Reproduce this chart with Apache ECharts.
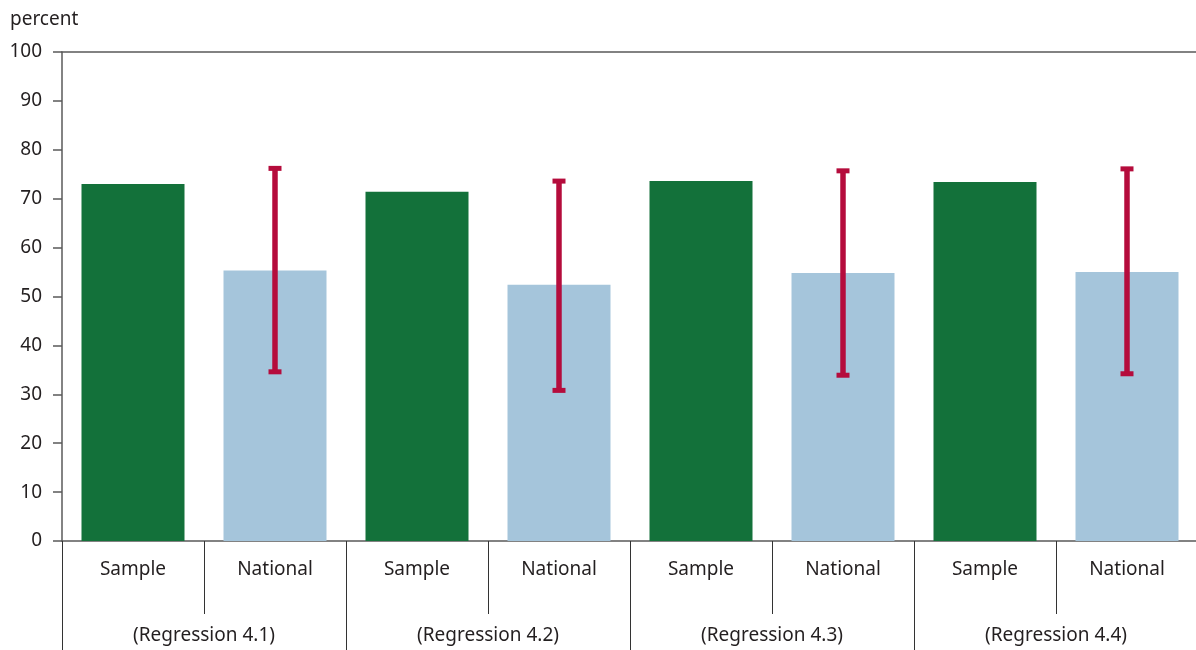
<!DOCTYPE html>
<html>
<head>
<meta charset="utf-8">
<script src="https://cdn.jsdelivr.net/npm/echarts@6/dist/echarts.min.js"></script>
<style>
html,body{margin:0;padding:0;background:#fff;overflow:hidden;}
#chart{width:1204px;height:650px;}
</style>
</head>
<body>
<div id="chart"></div>
<script>
const groups = ['(Regression 4.1)', '(Regression 4.2)', '(Regression 4.3)', '(Regression 4.4)'];
const subCategories = ['Sample', 'National'];
const sampleValues = [73.0, 71.4, 73.6, 73.4];
const nationalValues = [55.3, 52.4, 54.8, 55.0];
const nationalLow = [34.6, 30.8, 33.9, 34.2];
const nationalHigh = [76.2, 73.6, 75.7, 76.1];
const yTicks = [0, 10, 20, 30, 40, 50, 60, 70, 80, 90, 100];

const GREEN = '#13713a';
const BLUE = '#a5c5db';
const RED = '#b50c3c';
const TEXT = '#231f20';
const AXIS = '#5a5a5a';
const FONT = '"Noto Sans", "Open Sans", sans-serif';
const FS = 19;

const categories = [];
const barData = [];
const errData = [];
groups.forEach((g, i) => {
  categories.push(subCategories[0]);
  barData.push({ value: sampleValues[i], itemStyle: { color: GREEN } });
  categories.push(subCategories[1]);
  barData.push({ value: nationalValues[i], itemStyle: { color: BLUE } });
  errData.push([i * 2 + 1, nationalLow[i], nationalHigh[i]]);
});

const chart = echarts.init(document.getElementById('chart'), null, { renderer: 'canvas' });
chart.setOption({
  animation: false,
  backgroundColor: '#fff',
  textStyle: { fontFamily: FONT },
  title: {
    text: 'percent', left: 5, top: 5,
    textStyle: { fontFamily: FONT, fontSize: FS, fontWeight: 'normal', color: TEXT }
  },
  grid: { left: 62, right: 6, top: 52, bottom: 109, containLabel: false },
  xAxis: [
    {
      type: 'category', data: categories, position: 'bottom',
      axisLine: { show: true, lineStyle: { color: AXIS, width: 1.5 } },
      axisTick: { show: true, alignWithLabel: false, length: 73, lineStyle: { color: '#333', width: 1 } },
      axisLabel: { margin: 19, fontSize: FS, color: TEXT, fontFamily: FONT },
      splitLine: { show: false }
    },
    {
      type: 'category', data: groups, position: 'bottom',
      axisLine: { show: false },
      axisTick: { show: true, alignWithLabel: false, length: 109, lineStyle: { color: '#333', width: 1 } },
      axisLabel: { margin: 85, fontSize: FS, color: TEXT, fontFamily: FONT },
      splitLine: { show: false }
    },
    {
      type: 'category', data: groups, position: 'top',
      axisLine: { show: true, lineStyle: { color: AXIS, width: 1.5 } },
      axisTick: { show: false }, axisLabel: { show: false }
    }
  ],
  yAxis: {
    type: 'value', min: yTicks[0], max: yTicks[yTicks.length - 1], interval: 10,
    axisLine: { show: true, lineStyle: { color: AXIS, width: 1.5 } },
    axisTick: { show: true, inside: false, length: 9, lineStyle: { color: AXIS, width: 1.5 } },
    axisLabel: { margin: 20, fontSize: FS, color: TEXT, fontFamily: FONT },
    splitLine: { show: false }
  },
  series: [
    {
      type: 'bar', xAxisIndex: 0, data: barData, barWidth: 103
    },
    {
      type: 'custom', xAxisIndex: 0, data: errData,
      encode: { x: 0, y: [1, 2] },
      z: 10,
      renderItem: function (params, api) {
        const x = api.value(0);
        const lo = api.coord([x, api.value(1)]);
        const hi = api.coord([x, api.value(2)]);
        const half = 6.5;
        const style = { stroke: RED, lineWidth: 5.5, fill: null };
        return {
          type: 'group',
          children: [
            { type: 'line', shape: { x1: lo[0], y1: lo[1], x2: hi[0], y2: hi[1] }, style: style },
            { type: 'rect', shape: { x: hi[0] - half, y: hi[1] - 2.5, width: half * 2, height: 5 }, style: { fill: RED } },
            { type: 'rect', shape: { x: lo[0] - half, y: lo[1] - 2.5, width: half * 2, height: 5 }, style: { fill: RED } }
          ]
        };
      }
    }
  ]
});
</script>
</body>
</html>
